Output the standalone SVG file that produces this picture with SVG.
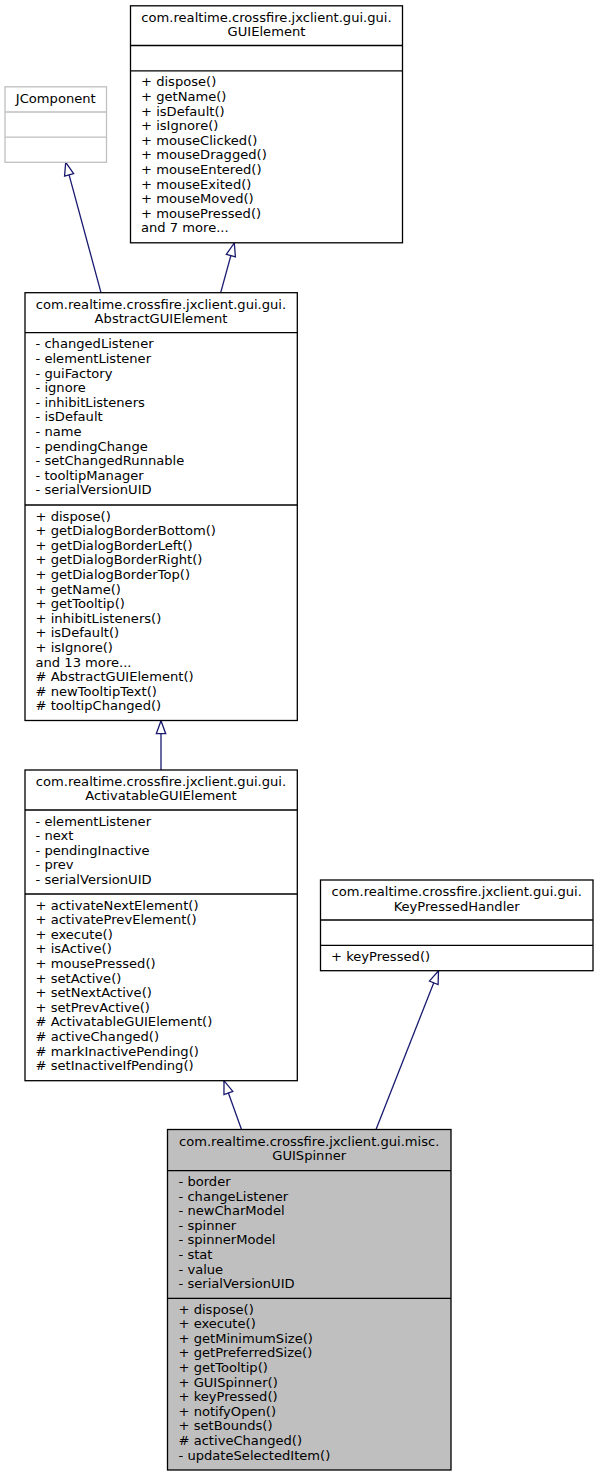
<svg xmlns="http://www.w3.org/2000/svg" width="599" height="1476" viewBox="0 0 599 1476">
<style>
text{font-family:"DejaVu Sans","Liberation Sans",sans-serif;font-size:13.1px;fill:#000}
.t{text-anchor:middle}
.box{fill:#fff;stroke:#000;stroke-width:1.3}
.ext{fill:#fff;stroke:#bfbfbf;stroke-width:1.3}
.cur{fill:#bfbfbf;stroke:#000;stroke-width:1.3}
.sep{stroke:#000;stroke-width:1.3}
.sepx{stroke:#bfbfbf;stroke-width:1.3}
.e{fill:none;stroke:#191970;stroke-width:1.3}
</style>
<defs>
<marker id="tri" markerUnits="userSpaceOnUse" markerWidth="16" markerHeight="12" refX="13.3" refY="6" orient="auto" overflow="visible">
<path d="M0.3,1.3 L13.3,6 L0.3,10.7 Z" fill="#fff" stroke="#191970" stroke-width="1.3"/>
</marker>
</defs>
<rect width="599" height="1476" fill="#fff"/>
<g id="edges">
<path class="e" d="M101,292.7 L65.7,162.3" marker-end="url(#tri)"/>
<path class="e" d="M220.7,292.7 L234.3,243" marker-end="url(#tri)"/>
<path class="e" d="M161,770 L161,720.7" marker-end="url(#tri)"/>
<path class="e" d="M241.5,1129.5 L224,1080.7" marker-end="url(#tri)"/>
<path class="e" d="M376,1129.5 L438.5,970.7" marker-end="url(#tri)"/>
</g>
<g id="GUIElement">
<rect class="box" x="130.5" y="5.8" width="272" height="237"/>
<line class="sep" x1="130.5" y1="45.5" x2="402.5" y2="45.5"/>
<line class="sep" x1="130.5" y1="70.8" x2="402.5" y2="70.8"/>
<text class="t" x="266.5" y="21.8">com.realtime.crossfire.jxclient.gui.gui.</text>
<text class="t" x="266.5" y="36.4">GUIElement</text>
<text x="141" y="86.3">+ dispose()</text>
<text x="141" y="100.9">+ getName()</text>
<text x="141" y="115.5">+ isDefault()</text>
<text x="141" y="130.1">+ isIgnore()</text>
<text x="141" y="144.7">+ mouseClicked()</text>
<text x="141" y="159.3">+ mouseDragged()</text>
<text x="141" y="173.9">+ mouseEntered()</text>
<text x="141" y="188.5">+ mouseExited()</text>
<text x="141" y="203.1">+ mouseMoved()</text>
<text x="141" y="217.7">+ mousePressed()</text>
<text x="141" y="232.3">and 7 more...</text>
</g>
<g id="JComponent">
<rect class="ext" x="5" y="86.8" width="101.5" height="75.5"/>
<line class="sepx" x1="5" y1="112" x2="106.5" y2="112"/>
<line class="sepx" x1="5" y1="137.2" x2="106.5" y2="137.2"/>
<text class="t" x="55.8" y="103">JComponent</text>
</g>
<g id="AbstractGUIElement">
<rect class="box" x="25" y="292.7" width="272.3" height="427.8"/>
<line class="sep" x1="25" y1="332.7" x2="297.3" y2="332.7"/>
<line class="sep" x1="25" y1="505" x2="297.3" y2="505"/>
<text class="t" x="161" y="308.5">com.realtime.crossfire.jxclient.gui.gui.</text>
<text class="t" x="161" y="323.1">AbstractGUIElement</text>
<text x="35.5" y="348.3">- changedListener</text>
<text x="35.5" y="362.9">- elementListener</text>
<text x="35.5" y="377.5">- guiFactory</text>
<text x="35.5" y="392.1">- ignore</text>
<text x="35.5" y="406.7">- inhibitListeners</text>
<text x="35.5" y="421.3">- isDefault</text>
<text x="35.5" y="435.9">- name</text>
<text x="35.5" y="450.5">- pendingChange</text>
<text x="35.5" y="465.1">- setChangedRunnable</text>
<text x="35.5" y="479.7">- tooltipManager</text>
<text x="35.5" y="494.3">- serialVersionUID</text>
<text x="35.5" y="520.5">+ dispose()</text>
<text x="35.5" y="535.1">+ getDialogBorderBottom()</text>
<text x="35.5" y="549.7">+ getDialogBorderLeft()</text>
<text x="35.5" y="564.3">+ getDialogBorderRight()</text>
<text x="35.5" y="578.9">+ getDialogBorderTop()</text>
<text x="35.5" y="593.5">+ getName()</text>
<text x="35.5" y="608.1">+ getTooltip()</text>
<text x="35.5" y="622.7">+ inhibitListeners()</text>
<text x="35.5" y="637.3">+ isDefault()</text>
<text x="35.5" y="651.9">+ isIgnore()</text>
<text x="35.5" y="666.5">and 13 more...</text>
<text x="35.5" y="681.1"># AbstractGUIElement()</text>
<text x="35.5" y="695.7"># newTooltipText()</text>
<text x="35.5" y="710.3"># tooltipChanged()</text>
</g>
<g id="ActivatableGUIElement">
<rect class="box" x="25" y="770" width="272.3" height="310.7"/>
<line class="sep" x1="25" y1="810" x2="297.3" y2="810"/>
<line class="sep" x1="25" y1="894" x2="297.3" y2="894"/>
<text class="t" x="161" y="785.8">com.realtime.crossfire.jxclient.gui.gui.</text>
<text class="t" x="161" y="800.4">ActivatableGUIElement</text>
<text x="35.5" y="825.5">- elementListener</text>
<text x="35.5" y="840.1">- next</text>
<text x="35.5" y="854.7">- pendingInactive</text>
<text x="35.5" y="869.3">- prev</text>
<text x="35.5" y="883.9">- serialVersionUID</text>
<text x="35.5" y="909.5">+ activateNextElement()</text>
<text x="35.5" y="924.1">+ activatePrevElement()</text>
<text x="35.5" y="938.7">+ execute()</text>
<text x="35.5" y="953.3">+ isActive()</text>
<text x="35.5" y="967.9">+ mousePressed()</text>
<text x="35.5" y="982.5">+ setActive()</text>
<text x="35.5" y="997.1">+ setNextActive()</text>
<text x="35.5" y="1011.7">+ setPrevActive()</text>
<text x="35.5" y="1026.3"># ActivatableGUIElement()</text>
<text x="35.5" y="1040.9"># activeChanged()</text>
<text x="35.5" y="1055.5"># markInactivePending()</text>
<text x="35.5" y="1070.1"># setInactiveIfPending()</text>
</g>
<g id="KeyPressedHandler">
<rect class="box" x="320.5" y="880" width="272.5" height="90.7"/>
<line class="sep" x1="320.5" y1="920" x2="593" y2="920"/>
<line class="sep" x1="320.5" y1="945.3" x2="593" y2="945.3"/>
<text class="t" x="456.7" y="896">com.realtime.crossfire.jxclient.gui.gui.</text>
<text class="t" x="456.7" y="910.6">KeyPressedHandler</text>
<text x="331" y="960.8">+ keyPressed()</text>
</g>
<g id="GUISpinner">
<rect class="cur" x="167.5" y="1129.5" width="283.5" height="340.5"/>
<line class="sep" x1="167.5" y1="1170.7" x2="451" y2="1170.7"/>
<line class="sep" x1="167.5" y1="1298.3" x2="451" y2="1298.3"/>
<text class="t" x="309.2" y="1145.5">com.realtime.crossfire.jxclient.gui.misc.</text>
<text class="t" x="309.2" y="1160.1">GUISpinner</text>
<text x="178.5" y="1186">- border</text>
<text x="178.5" y="1200.6">- changeListener</text>
<text x="178.5" y="1215.2">- newCharModel</text>
<text x="178.5" y="1229.8">- spinner</text>
<text x="178.5" y="1244.4">- spinnerModel</text>
<text x="178.5" y="1259">- stat</text>
<text x="178.5" y="1273.6">- value</text>
<text x="178.5" y="1288.2">- serialVersionUID</text>
<text x="178.5" y="1313.6">+ dispose()</text>
<text x="178.5" y="1328.2">+ execute()</text>
<text x="178.5" y="1342.8">+ getMinimumSize()</text>
<text x="178.5" y="1357.4">+ getPreferredSize()</text>
<text x="178.5" y="1372">+ getTooltip()</text>
<text x="178.5" y="1386.6">+ GUISpinner()</text>
<text x="178.5" y="1401.2">+ keyPressed()</text>
<text x="178.5" y="1415.8">+ notifyOpen()</text>
<text x="178.5" y="1430.4">+ setBounds()</text>
<text x="178.5" y="1445"># activeChanged()</text>
<text x="178.5" y="1459.6">- updateSelectedItem()</text>
</g>
</svg>
